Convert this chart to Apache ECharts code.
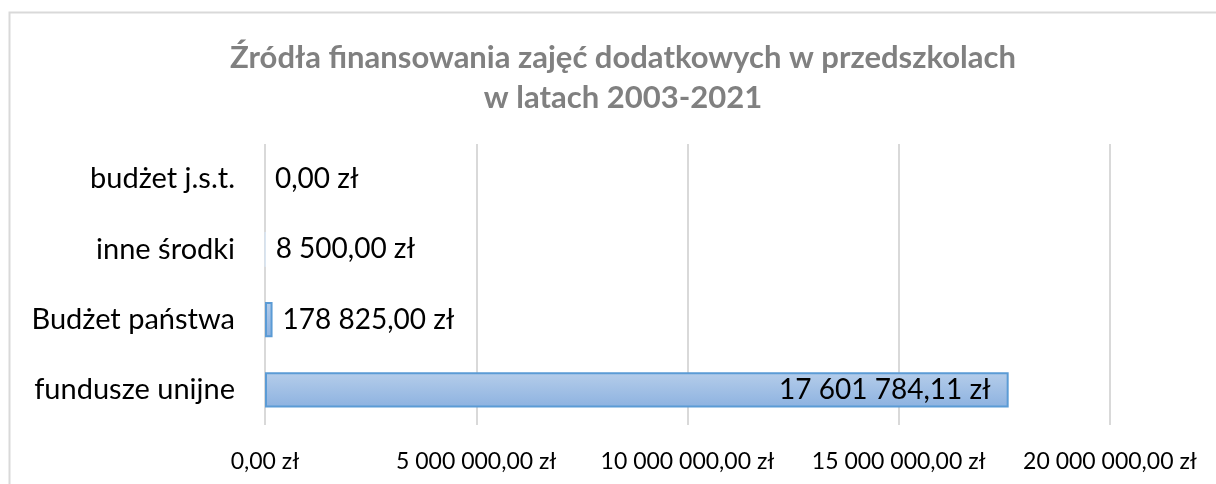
<!DOCTYPE html>
<html>
<head>
<meta charset="utf-8">
<script src="https://cdn.jsdelivr.net/npm/echarts@6/dist/echarts.min.js"></script>
<style>
  html, body { margin: 0; padding: 0; background: #fff; }
  #chart { width: 1216px; height: 484px; }
</style>
</head>
<body>
<div id="chart"></div>
<script>
const categories = ["fundusze unijne", "Budżet państwa", "inne środki", "budżet j.s.t."];
const values = [17601784.11, 178825.0, 8500.0, 0.0];
const tickValues = [0, 5000000, 10000000, 15000000, 20000000];

// format like "17 601 784,11 zł"
function fmtPln(v) {
  const parts = v.toFixed(2).split(".");
  const intPart = parts[0].replace(/\B(?=(\d{3})+(?!\d))/g, " ");
  return intPart + "," + parts[1] + " zł";
}

const font = "Lato";
const chart = echarts.init(document.getElementById("chart"));

const option = {
  backgroundColor: "#fff",
  animation: false,
  title: {
    text: "Źródła finansowania zajęć dodatkowych w przedszkolach\nw latach 2003-2021",
    left: 618,
    top: 33,
    textAlign: "center",
    textStyle: {
      fontFamily: font,
      fontSize: 31,
      fontWeight: "bold",
      color: "#808080",
      lineHeight: 40,
    },
  },
  graphic: [
    {
      type: "rect",
      shape: { x: 9.5, y: 12.5, width: 1300, height: 600 },
      style: { fill: "none", stroke: "#d9d9d9", lineWidth: 2 },
      silent: true,
    },
  ],
  grid: { left: 265, right: 106, top: 144, bottom: 59 },
  xAxis: {
    type: "value",
    min: tickValues[0],
    max: tickValues[tickValues.length - 1],
    interval: tickValues[1] - tickValues[0],
    axisLine: { show: false },
    axisTick: { show: false },
    splitLine: { lineStyle: { color: "#d9d9d9", width: 2 } },
    axisLabel: {
      formatter: fmtPln,
      fontFamily: font,
      fontSize: 23,
      color: "#000",
      margin: 25,
    },
  },
  yAxis: {
    type: "category",
    data: categories,
    axisLine: { show: false },
    axisTick: { show: false },
    axisLabel: {
      fontFamily: font,
      fontSize: 29,
      color: "#000",
      margin: 30,
    },
  },
  series: [
    {
      type: "bar",
      data: values,
      barWidth: "50%",
      itemStyle: {
        color: new echarts.graphic.LinearGradient(0, 0, 0, 1, [
          { offset: 0, color: "#b5cdea" },
          { offset: 1, color: "#8db2e0" },
        ]),
        borderColor: "#5b9bd5",
        borderWidth: 2,
      },
      label: {
        show: true,
        position: "right",
        distance: 10,
        fontFamily: font,
        fontSize: 28,
        color: "#000",
        formatter: (p) => fmtPln(p.value),
      },
    },
  ],
};

// the biggest bar carries its label inside, at the end; tiny bars get a faint edge
option.series[0].data = values.map((v, i) => {
  if (i === 0) return { value: v, label: { position: "insideRight", distance: 18 } };
  if (v === 0) return { value: v, itemStyle: { borderWidth: 0 } };
  if (v < 50000) return { value: v, itemStyle: { borderColor: "#dbe7f5", borderWidth: 1 } };
  return v;
});

chart.setOption(option);
</script>
</body>
</html>
